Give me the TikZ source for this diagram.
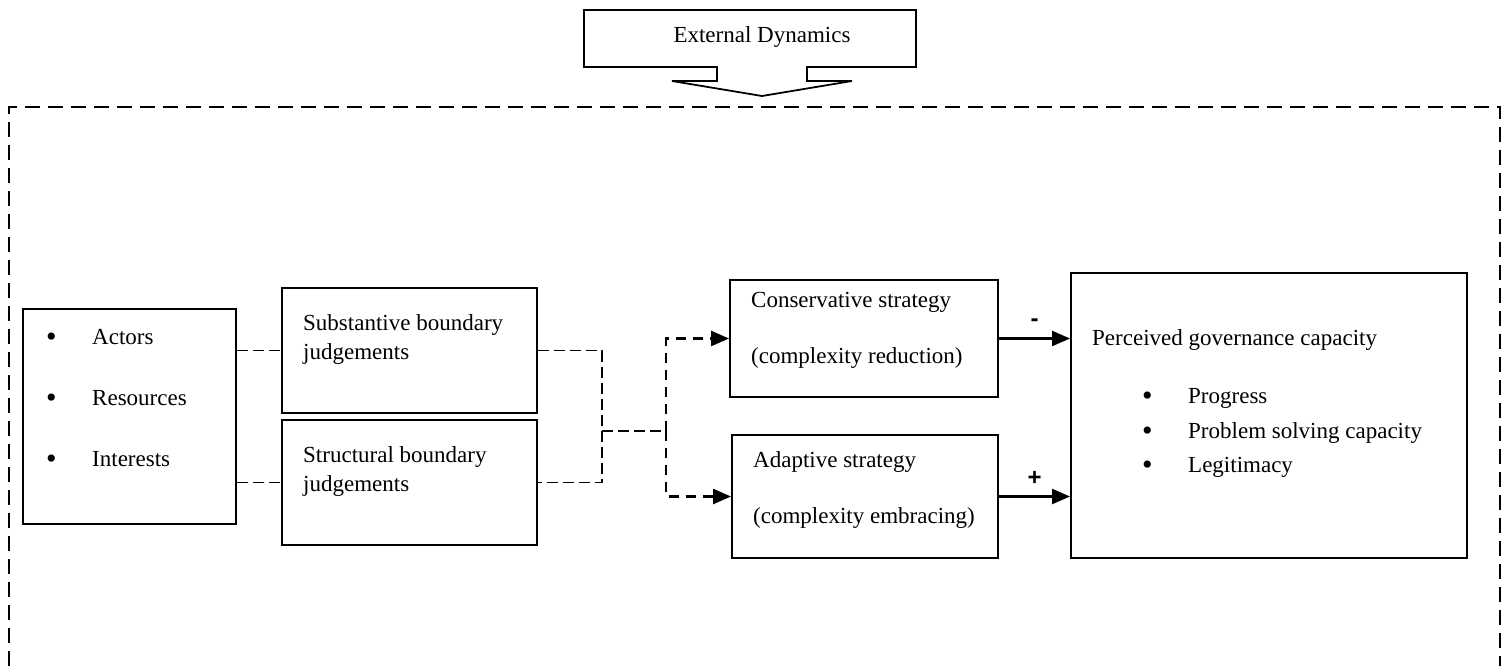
\documentclass[tikz,border=0pt]{standalone}
\usepackage{fontspec}
\setmainfont{Liberation Serif}
\setsansfont{Liberation Sans}
\usetikzlibrary{arrows.meta,positioning}
\newcommand{\itembul}{\makebox[46pt][l]{\raisebox{-2pt}{\fontsize{30}{30}\selectfont\textbullet}}}
\tikzset{
  blk/.style={draw,rectangle,line width=2pt,inner sep=0pt},
  txt/.style={font=\fontsize{23}{29}\selectfont,inner sep=0pt,align=left,anchor=base west},
  sgn/.style={font=\sffamily\bfseries\fontsize{24}{28}\selectfont,inner sep=0pt},
  lnk/.style={line width=1.7pt,dash pattern=on 11pt off 5pt},
  darr/.style={line width=2.6pt,dash pattern=on 10pt off 7pt,-{Triangle[length=18pt,width=15pt]}},
  arr/.style={line width=2.4pt,-{Triangle[length=18pt,width=15pt]}},
  outerdash/.style={line width=1.9pt,dash pattern=on 15pt off 8pt}
}

\begin{document}
\begin{tikzpicture}[x=1pt,y=-1pt]
  \useasboundingbox (0,0) rectangle (1508,666);
  % External dynamics callout
  \draw[line width=1.8pt] (584,10) -- (916,10) -- (916,67) -- (807,67) -- (807,81) -- (852,81)
    -- (762,96) -- (672,81) -- (717,81) -- (717,67) -- (584,67) -- cycle;
  \node[txt,anchor=base] (extdyn) at (762,43) {External Dynamics};

  % Dashed outer frame, open at the bottom
  \draw[outerdash] (9,666) -- (9,107) -- (1500,107) -- (1500,666);

  % Factors (text placed by the baseline of its last line)
  \node[blk,minimum width=213pt,minimum height=215pt] (facbox) at (129.5,416.5) {};
  \node[txt] (factxt) at (46,466) {\itembul Actors\\[32pt]\itembul Resources\\[32pt]\itembul Interests};

  % Boundary judgements
  \node[blk,minimum width=255pt,minimum height=125pt] (subbox) at (409.5,350.5) {};
  \node[txt] (subtxt) at (303,359) {Substantive boundary\\judgements};
  \node[blk,minimum width=255pt,minimum height=125pt] (strbox) at (409.5,482.5) {};
  \node[txt] (strtxt) at (303,491) {Structural boundary\\judgements};

  % Strategies
  \node[blk,minimum width=268pt,minimum height=117pt] (consbox) at (864,338.5) {};
  \node[txt] (constxt) at (751,363) {Conservative strategy\\[27pt](complexity reduction)};
  \node[blk,minimum width=266pt,minimum height=123pt] (adapbox) at (865,496.5) {};
  \node[txt] (adaptxt) at (753,523) {Adaptive strategy\\[27pt](complexity embracing)};

  % Governance capacity
  \node[blk,minimum width=396pt,minimum height=285pt] (capbox) at (1269,415.5) {};
  \node[txt] (captxt) at (1092,472) {Perceived governance capacity\\[29pt]
    \hspace*{50pt}\itembul Progress\\[6pt]
    \hspace*{50pt}\itembul Problem solving capacity\\[5pt]
    \hspace*{50pt}\itembul Legitimacy};

  % Dashed links
  \draw[lnk] (facbox.east |- subbox.west) -- (subbox.west);
  \draw[lnk] (facbox.east |- strbox.west) -- (strbox.west);
  \coordinate (jn) at (602,431);
  \coordinate (fork) at (666,431);
  \draw[lnk] (subbox.east) -| (jn) |- (strbox.east);
  \draw[lnk] (jn) -- (fork);
  \draw[darr] (fork) |- (consbox.west);
  \draw[darr] (fork) |- (adapbox.west);

  % Effects on capacity
  \draw[arr] (consbox.east) -- node[sgn,above=11pt] (minus) {-} (capbox.west |- consbox.east);
  \draw[arr] (adapbox.east) -- node[sgn,above=10pt] (plus) {+} (capbox.west |- adapbox.east);
\end{tikzpicture}
\end{document}
